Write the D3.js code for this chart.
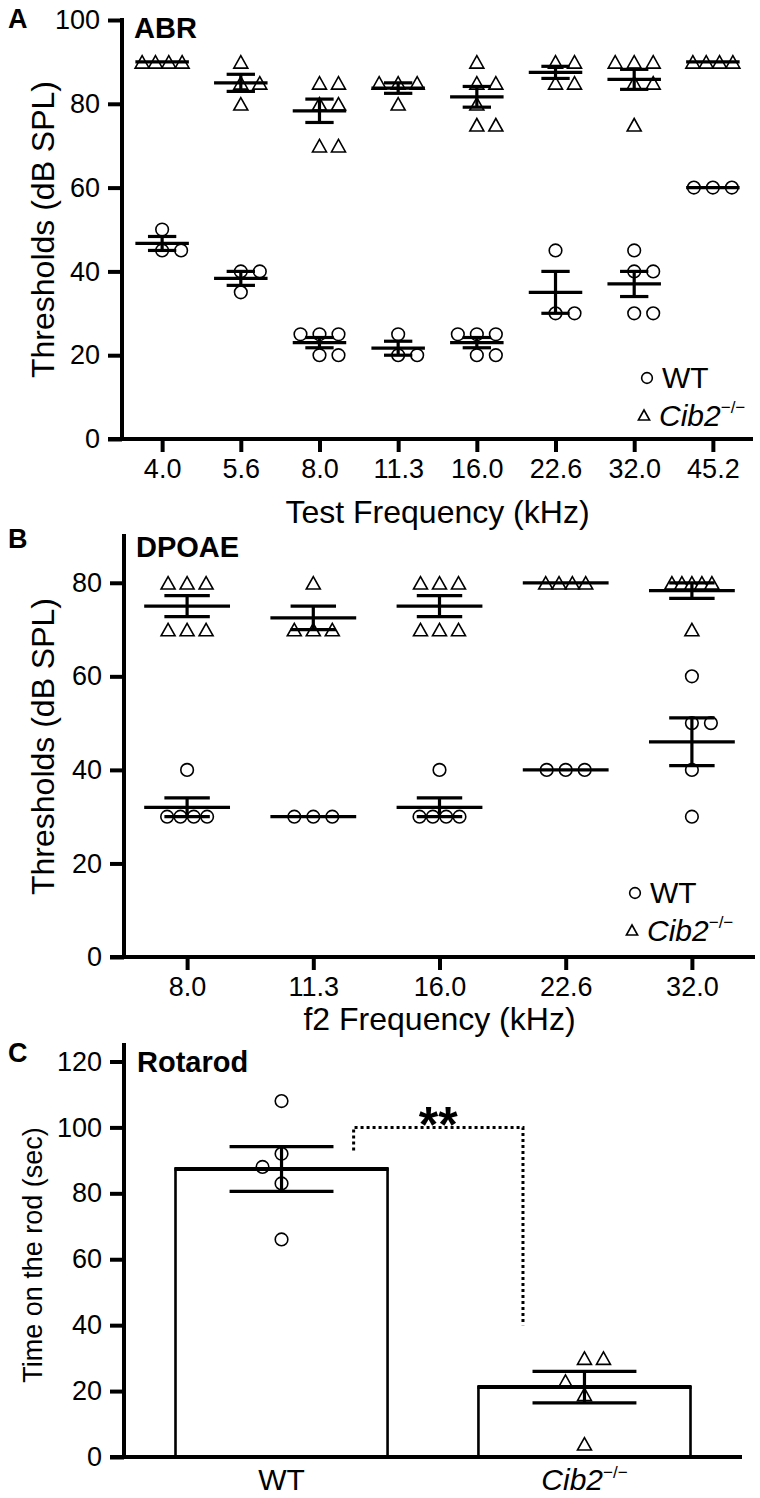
<!DOCTYPE html>
<html><head><meta charset="utf-8">
<script src="https://cdn.jsdelivr.net/npm/d3@7"></script>
<style>body{margin:0;background:#fff}svg{display:block}</style>
</head><body><svg id="c" width="760" height="1498"></svg>
<script>
// ---------- DATA ----------
// Panel A: ABR thresholds (dB SPL)
const abrFreqs = ["4.0","5.6","8.0","11.3","16.0","22.6","32.0","45.2"];
const abrWT = [[50,45,45],[40,40,35],[25,25,25,20,20],[25,20,20],[25,25,25,20,20],[45,30,30],[45,40,40,30,30],[60,60,60]];
const abrKO = [[90,90,90,90],[90,85,85,80],[85,85,80,80,70,70],[85,85,85,80],[90,85,85,80,75,75],[90,90,85,85],[90,90,90,85,85,75],[90,90,90,90]];
const abrYTicks = [0,20,40,60,80,100];
// Panel B: DPOAE thresholds (dB SPL)
const dpFreqs = ["8.0","11.3","16.0","22.6","32.0"];
const dpWT = [[40,30,30,30,30],[30,30,30],[40,30,30,30,30],[40,40,40],[60,50,50,40,30]];
const dpKO = [[80,80,80,70,70,70],[80,70,70,70],[80,80,80,70,70,70],[80,80,80,80],[80,80,80,80,80,70]];
const dpYTicks = [0,20,40,60,80];
// Panel C: Rotarod (sec)
const rotGroups = ["WT","Cib2"];
const rotWT = [108,92,88,83,66];
const rotKO = [30,30,19,23,4];
const rotYTicks = [0,20,40,60,80,100,120];
const rotSig = {label:"**", top:100, leftEnd:93, rightEnd:40};

// ---------- DRAWING ----------
const FONT = "'Liberation Sans', Arial, Helvetica, sans-serif";
const svg = d3.select("#c");

function triPath(x, y, w, h){
  const p = d3.path();
  p.moveTo(x, y - h/2); p.lineTo(x + w/2, y + h/2); p.lineTo(x - w/2, y + h/2); p.closePath();
  return p.toString();
}
function drawSym(g, kind, x, y, sc){
  sc = sc || 1;
  if (kind === "circle") {
    g.append("circle").attr("cx", x).attr("cy", y).attr("r", 6.3*sc)
      .attr("fill","#fff").attr("stroke","#000").attr("stroke-width",1.6);
  } else {
    g.append("path").attr("d", triPath(x, y, 14*sc, 12.5*sc))
      .attr("fill","#fff").attr("stroke","#000").attr("stroke-width",1.6).attr("stroke-linejoin","miter");
  }
}
function offsets(values, y, s, r){
  const counts = d3.rollup(values, v => v.length, d => d);
  const idx = new Map(); const placed = [];
  return values.map(v => {
    const n = counts.get(v); const i = idx.get(v) || 0; idx.set(v, i+1);
    let off;
    if (n > 1) {
      const sp = n <= 3 ? s : 40/(n-1);
      off = n === 2 ? i*sp : (i - (n-1)/2)*sp;
    } else {
      const cands = [0, -s, s, -2*s, 2*s];
      off = cands.find(c => placed.every(p => Math.hypot(p.x - c, p.y - y(v)) >= 2*r + 3));
      if (off === undefined) off = 0;
    }
    placed.push({x: off, y: y(v)});
    return off;
  });
}
function styleAxis(ag, size){
  ag.attr("font-family", FONT).attr("font-size", size);
  ag.selectAll(".tick line").attr("stroke","#000").attr("stroke-width",4);
  ag.selectAll(".tick text").attr("fill","#000");
}
function cibLabel(t, size, supSize){
  t.append("tspan").attr("font-style","italic").text("Cib2");
  t.append("tspan").attr("font-size", supSize).attr("dy", -size*0.42).text("\u2212/\u2212");
}

function scatterPanel(c){
  const g = svg.append("g");
  const y = d3.scaleLinear().domain([0, c.yMax]).range([c.y0, c.yTop]);
  const x = d3.scalePoint().domain(c.cats).range([c.xLeft, c.xRight]).padding(c.pad);
  const step = x.step();
  const yg = g.append("g").attr("transform", `translate(${c.xLeft},0)`)
    .call(d3.axisLeft(y).tickValues(c.yTicks).tickSize(14).tickPadding(8).tickSizeOuter(0));
  yg.select(".domain").remove(); styleAxis(yg, 27);
  const xg = g.append("g").attr("transform", `translate(0,${c.y0})`)
    .call(d3.axisBottom(x).tickSize(13).tickPadding(7).tickSizeOuter(0));
  xg.select(".domain").remove(); styleAxis(xg, 27);
  g.append("line").attr("x1", c.xLeft).attr("x2", c.xLeft).attr("y1", c.y0).attr("y2", c.yTop)
    .attr("stroke","#000").attr("stroke-width",4).attr("stroke-linecap","square");
  g.append("line").attr("x1", c.xLeft - 14).attr("x2", c.xRight).attr("y1", c.y0).attr("y2", c.y0)
    .attr("stroke","#000").attr("stroke-width",4);
  const series = [{vals: c.wt, kind:"circle"}, {vals: c.ko, kind:"tri"}];
  series.forEach(se => se.vals.forEach((vals, i) => {
    const cx = x(c.cats[i]);
    const offs = offsets(vals, y, 19, 6.3);
    vals.forEach((v, j) => drawSym(g, se.kind, cx + offs[j], y(v)));
  }));
  series.forEach(se => se.vals.forEach((vals, i) => {
    const cx = x(c.cats[i]);
    const m = d3.mean(vals); const sem = d3.deviation(vals)/Math.sqrt(vals.length);
    const L = (x1, y1, x2, y2) => g.append("line").attr("x1",x1).attr("y1",y1).attr("x2",x2).attr("y2",y2)
      .attr("stroke","#000").attr("stroke-width",3.2);
    L(cx - 0.34*step, y(m), cx + 0.34*step, y(m));
    if (sem > 0) {
      L(cx, y(m - sem), cx, y(m + sem));
      L(cx - 0.18*step, y(m + sem), cx + 0.18*step, y(m + sem));
      L(cx - 0.18*step, y(m - sem), cx + 0.18*step, y(m - sem));
    }
  }));
  g.append("text").attr("x", 8).attr("y", c.letterY).attr("font-family",FONT).attr("font-weight","bold")
    .attr("font-size",27).text(c.letter);
  g.append("text").attr("x", c.xLeft + 12).attr("y", c.titleY).attr("font-family",FONT).attr("font-weight","bold")
    .attr("font-size",29).text(c.title);
  g.append("text").attr("transform", `translate(${c.yTitleX},${(c.y0 + c.yTop)/2}) rotate(-90)`)
    .attr("text-anchor","middle").attr("dominant-baseline","central").attr("font-family",FONT)
    .attr("font-size",32).text(c.yTitle);
  g.append("text").attr("x", (c.xLeft + c.xRight)/2).attr("y", c.xTitleY).attr("text-anchor","middle")
    .attr("font-family",FONT).attr("font-size",32).text(c.xTitle);
  drawSym(g, "circle", c.legX + 3, c.legY, 0.85);
  g.append("text").attr("x", c.legX + 18).attr("y", c.legY + 10).attr("font-family",FONT).attr("font-size",30).text("WT");
  drawSym(g, "tri", c.legX, c.legY + 37, 0.8);
  cibLabel(g.append("text").attr("x", c.legX + 15).attr("y", c.legY + 48).attr("font-family",FONT).attr("font-size",30), 30, 17);
}

scatterPanel({cats: abrFreqs, wt: abrWT, ko: abrKO, yTicks: abrYTicks, yMax: 100,
  y0: 439, yTop: 20, xLeft: 122, xRight: 753, pad: 0.51,
  letter: "A", letterY: 28, title: "ABR", titleY: 38, yTitle: "Thresholds (dB SPL)", yTitleX: 43,
  xTitle: "Test Frequency (kHz)", xTitleY: 523, legX: 644, legY: 378});

scatterPanel({cats: dpFreqs, wt: dpWT, ko: dpKO, yTicks: dpYTicks, yMax: 90,
  y0: 957, yTop: 536, xLeft: 124, xRight: 755, pad: 0.5,
  letter: "B", letterY: 548, title: "DPOAE", titleY: 557, yTitle: "Thresholds (dB SPL)", yTitleX: 43,
  xTitle: "f2 Frequency (kHz)", xTitleY: 1030, legX: 632, legY: 893});

(function(){
  const g = svg.append("g");
  const y0 = 1457, yTop = 1045, xLeft = 124, xRight = 742;
  const y = d3.scaleLinear().domain([0, 125]).range([y0, yTop]);
  const xb = d3.scaleBand().domain(rotGroups).range([xLeft, xRight]).paddingInner(0.3).paddingOuter(0.17);
  const bw = xb.bandwidth();
  const yg = g.append("g").attr("transform", `translate(${xLeft},0)`)
    .call(d3.axisLeft(y).tickValues(rotYTicks).tickSize(14).tickPadding(8).tickSizeOuter(0));
  yg.select(".domain").remove(); styleAxis(yg, 27);
  const xg = g.append("g").attr("transform", `translate(0,${y0})`)
    .call(d3.axisBottom(xb).tickSize(0).tickPadding(12));
  xg.select(".domain").remove(); styleAxis(xg, 30);
  xg.selectAll(".tick text").each(function(d){
    const t = d3.select(this);
    if (d === "Cib2") { t.text(null); cibLabel(t, 30, 17); }
  });
  const series = [{vals: rotWT, kind:"circle", cat:"WT"}, {vals: rotKO, kind:"tri", cat:"Cib2"}];
  series.forEach(se => {
    const m = d3.mean(se.vals);
    g.append("rect").attr("x", xb(se.cat)).attr("y", y(m)).attr("width", bw).attr("height", y0 - y(m))
      .attr("fill","#fff").attr("stroke","#000").attr("stroke-width",2.6);
  });
  g.append("line").attr("x1", xLeft).attr("x2", xLeft).attr("y1", y0).attr("y2", yTop)
    .attr("stroke","#000").attr("stroke-width",4).attr("stroke-linecap","square");
  g.append("line").attr("x1", xLeft - 14).attr("x2", xRight).attr("y1", y0).attr("y2", y0)
    .attr("stroke","#000").attr("stroke-width",4);
  series.forEach(se => {
    const cx = xb(se.cat) + bw/2;
    const offs = offsets(se.vals, y, 19, 6.3);
    se.vals.forEach((v, j) => drawSym(g, se.kind, cx + offs[j], y(v)));
  });
  series.forEach(se => {
    const cx = xb(se.cat) + bw/2;
    const m = d3.mean(se.vals); const sem = d3.deviation(se.vals)/Math.sqrt(se.vals.length);
    const L = (x1, y1, x2, y2, w) => g.append("line").attr("x1",x1).attr("y1",y1).attr("x2",x2).attr("y2",y2)
      .attr("stroke","#000").attr("stroke-width",w);
    L(xb(se.cat) - 1, y(m), xb(se.cat) + bw + 1, y(m), 4);
    L(cx, y(m - sem), cx, y(m + sem), 3.2);
    L(cx - 0.245*bw, y(m + sem), cx + 0.245*bw, y(m + sem), 3.2);
    L(cx - 0.245*bw, y(m - sem), cx + 0.245*bw, y(m - sem), 3.2);
  });
  const xL = xb("WT") + 0.84*bw, xR = xb("Cib2") + 0.21*bw;
  g.append("path").attr("d", d3.line()([[xL, y(rotSig.leftEnd)], [xL, y(rotSig.top)], [xR, y(rotSig.top)], [xR, y(rotSig.rightEnd)]]))
    .attr("fill","none").attr("stroke","#000").attr("stroke-width",3).attr("stroke-dasharray","3,3");
  g.append("text").attr("x", (xL + xR)/2).attr("y", y(rotSig.top) + 15).attr("text-anchor","middle")
    .attr("font-family",FONT).attr("font-weight","bold").attr("font-size",50).text(rotSig.label);
  g.append("text").attr("x", 8).attr("y", 1062).attr("font-family",FONT).attr("font-weight","bold").attr("font-size",27).text("C");
  g.append("text").attr("x", xLeft + 13).attr("y", 1072).attr("font-family",FONT).attr("font-weight","bold").attr("font-size",29).text("Rotarod");
  g.append("text").attr("transform", `translate(33,1255) rotate(-90)`).attr("text-anchor","middle")
    .attr("dominant-baseline","central").attr("font-family",FONT).attr("font-size",27).text("Time on the rod (sec)");
})();
</script></body></html>
